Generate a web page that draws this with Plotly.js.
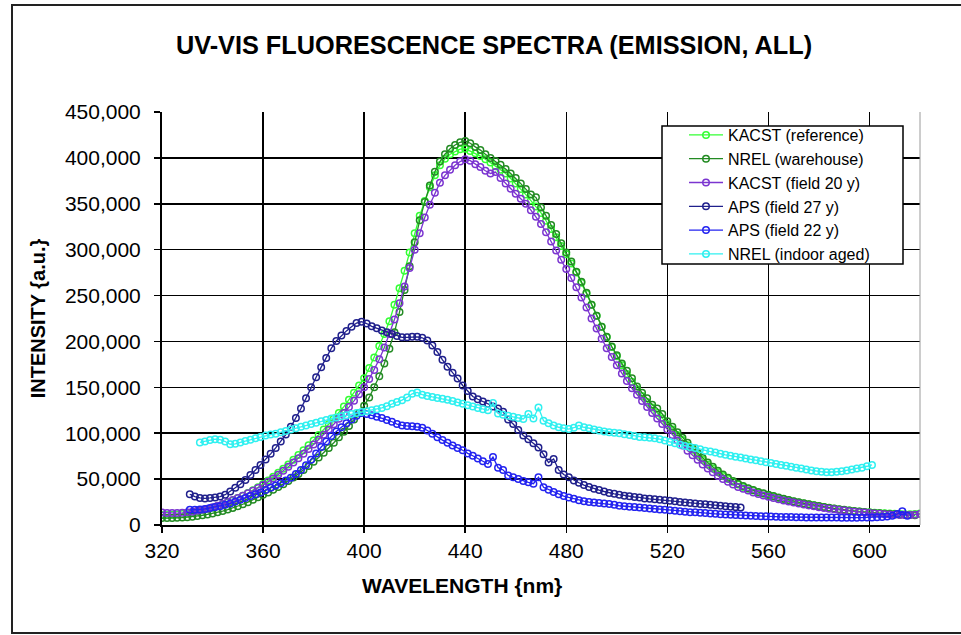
<!DOCTYPE html>
<html>
<head>
<meta charset="utf-8">
<script src="https://cdn.plot.ly/plotly-3.0.1.min.js"></script>
<style>
html,body{margin:0;padding:0;background:#fff;}
#frame{position:absolute;left:11px;top:4px;width:960px;height:626px;border-left:2px solid #222;border-top:2px solid #222;border-bottom:2px solid #222;}
#chart{position:absolute;left:0;top:0;width:961px;height:635px;}
</style>
</head>
<body>
<div id="frame"></div>
<div id="chart"></div>
<script>
// Series names (legend order)
const seriesNames = ["KACST (reference)", "NREL (warehouse)", "KACST (field 20 y)", "APS (field 27 y)", "APS (field 22 y)", "NREL (indoor aged)"];
const seriesColors = ["#33ff33", "#238b23", "#7b35d0", "#20208c", "#2323f0", "#30f0f0"];

// Wavelength sampling (nm): first wavelength and step per series
const startNm = [320, 320, 320, 331, 331, 335];
const stepNm = 2;

// Intensity values (a.u.)
const kacstReference = [
11000,11000,11200,11500,12000,12800,13600,14600,15800,17200,
18800,20500,22400,24500,26800,29300,32000,34800,37800,41200,
44800,48600,52600,56800,61200,66000,71000,76200,81400,86800,
92200,98000,104000,110000,116000,122000,129000,136500,144000,152000,
160000,171000,182500,195000,208000,222000,240000,258000,277000,297000,
318000,337000,353000,368000,381000,392000,399000,404000,407000,409500,
410000,407500,405000,402000,398500,395000,391000,387000,383000,377500,
372000,366000,360000,353500,347000,340000,331500,322500,313500,304000,
295000,285000,275000,264000,252000,240000,228000,216000,204500,194000,
184000,174000,164500,156000,148000,140500,134000,128000,122000,116000,
110000,104000,98000,92500,87000,82000,76500,71000,66000,61500,
57500,53500,50000,47000,44000,41500,39500,37500,35500,34000,
32500,31000,29500,28000,27000,25500,24500,23500,22500,21500,
20500,19500,18500,17800,17000,16300,15700,15100,14600,14200,
13800,13400,13000,12700,12400,12200,12000,11800,11800,12000,
12500];

const nrelWarehouse = [
7500,7500,7600,7800,8100,8500,9000,9700,10500,11500,
12600,13800,15200,16800,18600,20500,22600,24900,27400,30200,
33000,35500,38300,41300,44500,48000,51700,55700,59800,64200,
68800,73600,78700,84000,89600,95500,101500,108000,115000,122000,
130000,139000,150000,162000,176000,192000,210000,232000,256000,282000,
308000,332000,352000,370000,385000,396000,404000,410000,414000,417000,
418500,416000,412000,408500,404000,400000,396500,392500,388000,383000,
378000,372000,366000,360000,357000,346000,337000,327000,317000,307000,
297000,287000,276000,265000,253000,240000,228000,216000,205000,194500,
185000,176000,168000,160000,151000,144000,138000,131000,127000,121000,
113000,107000,101000,95000,89500,84000,78500,73000,68000,63500,
59000,55000,51500,48000,45000,42500,40000,38000,36000,34500,
33000,31500,30000,28500,27200,26000,24800,23700,22600,21600,
20600,19700,18800,18000,17200,16500,15800,15200,14600,14100,
13600,13100,12700,12300,11900,11600,11300,11000,10800,10600];

const kacstField20 = [
13500,13200,13000,13000,13300,13800,14500,15400,16500,17800,
19300,21000,22900,25000,27300,29300,31800,34500,37300,40300,
43500,47000,50800,54800,59000,63400,68000,72800,77700,82700,
87800,93000,98400,104000,109800,115800,122000,128500,135300,142500,
150000,159000,169000,180500,193500,208000,224000,241500,260000,280000,
300000,318000,335000,349000,362000,373000,381000,387000,392000,396000,
398500,397000,393000,390000,386000,383000,384500,378000,372000,366500,
361000,355500,350000,343000,336000,328000,319000,309000,299000,289000,
279000,269000,259000,248000,237000,225000,214000,203000,192500,183000,
174000,165000,157000,149000,142000,135000,128500,122000,116000,110000,
104000,98000,92000,86500,81000,76000,71000,66000,61500,57500,
53500,50000,47000,44000,41500,39500,37500,35500,33800,32200,
30800,29400,28000,26800,25600,24400,23300,22300,21300,20300,
19400,18600,17800,17100,16400,15700,15100,14500,14000,13500,
13000,12600,12200,11800,11500,11200,11000,10800,10800,11200,
12000];

const apsField27 = [
33500,31000,29500,29000,29500,30000,31000,33000,36500,40500,
44500,49000,54500,60000,65500,71500,77500,84000,91000,98500,
107000,116500,127000,138000,150000,161000,172000,182000,192500,200500,
206500,211500,216000,220000,221500,219500,216500,214500,212000,210000,
208000,206000,204500,204500,205000,205000,204000,201000,195500,188500,
180000,172500,166000,159500,152000,146000,140000,137000,134500,132000,
129000,127000,123500,115000,110000,103500,97500,93500,89000,84500,
77000,68000,72000,60000,55000,52000,48500,46000,43500,41500,
39500,38000,36500,35000,34000,33000,32000,31200,30500,30000,
29000,28500,28000,27500,27000,26500,26000,25000,24500,24000,
23500,23000,22500,22000,21500,21000,20500,20000,19500,19000];

const apsField22 = [
16500,16500,17000,17500,18500,19500,20500,22000,23500,25500,
27500,29500,31500,33500,35500,38000,40500,43000,45500,48500,
51500,55500,60000,65000,71000,78000,85000,91000,97000,102000,
106500,111000,115000,119000,122000,121000,119500,118000,116500,114500,
112500,110000,108500,108000,107500,107000,106000,103000,99500,95500,
92500,89500,86500,84000,81500,78000,75500,72500,69500,66500,
74000,62500,60000,54000,52000,50000,48000,46500,45000,52000,
41000,38500,36000,33500,31500,30000,28500,27000,26000,25000,
24500,24000,23500,23000,22000,21000,20500,20000,19500,19000,
18500,18000,17500,17000,16500,16000,15500,15000,14500,14000,
13800,13400,13000,12600,12200,11800,11500,11200,10900,10600,
10300,10000,9800,9600,9400,9200,9000,8800,8700,8600,
8500,8400,8300,8300,8200,8200,8100,8100,8100,8000,
8000,8000,8000,8100,8200,8300,8500,8800,9200,10000,
12000,15000,10000];

const nrelIndoorAged = [
90000,91000,92500,93500,93000,91000,88000,88500,90000,91500,
93000,94500,96000,97500,98500,99500,101000,102500,104000,105500,
107000,108500,110000,111500,113000,114500,116000,117000,118500,119500,
121000,122000,123000,124000,125000,126000,127500,129500,132000,134000,
136000,139000,143000,144500,142000,140500,139500,138500,137500,136500,
135000,133500,132000,130500,129000,127500,126000,125000,133000,121500,
120000,119000,118000,116500,115500,121000,116000,128000,113500,111000,
108500,106500,105500,104500,106000,108500,106500,105500,104000,103000,
102000,101000,100500,100000,99000,98000,97000,96000,95500,95000,
94500,93500,92000,90500,89000,87500,86000,85000,84000,82500,
81000,80000,79000,77500,76500,75500,74500,73500,72500,71500,
70500,69500,68500,67500,66500,65500,64500,63500,62500,61500,
60500,59500,58500,58000,57500,57500,58000,58500,59500,60500,
61500,62500,64000,65500];

// Axis ticks
const xTicks = [320, 360, 400, 440, 480, 520, 560, 600];
const yTicks = [0, 50000, 100000, 150000, 200000, 250000, 300000, 350000, 400000, 450000];

const allSeries = [kacstReference, nrelWarehouse, kacstField20, apsField27, apsField22, nrelIndoorAged];

const FONT = "'Liberation Sans', Arial, Helvetica, sans-serif";

const traces = allSeries.map((vals, i) => ({
  type: 'scatter',
  mode: 'lines+markers',
  name: seriesNames[i],
  x0: startNm[i],
  dx: stepNm,
  y: vals,
  line: {color: seriesColors[i], width: 1.3},
  marker: {symbol: 'circle-open', size: 6.5, color: seriesColors[i], line: {width: 1.5, color: seriesColors[i]}}
}));

const L = 162, R = 920, T = 112, B = 525;
const W = R - L, H = B - T;
const px = v => (v - L) / W;
const py = v => (B - v) / H;

const layout = {
  width: 961, height: 635,
  margin: {l: L, r: 961 - R, t: T, b: 635 - B, pad: 0},
  paper_bgcolor: 'rgba(0,0,0,0)',
  plot_bgcolor: '#ffffff',
  font: {family: FONT, color: '#000'},
  title: {
    text: 'UV-VIS FLUORESCENCE SPECTRA (EMISSION, ALL)',
    font: {family: FONT, size: 25.3, weight: 'bold', color: '#000'},
    xref: 'container', yref: 'container', x: 494 / 961, y: 1 - 45 / 635,
    xanchor: 'center', yanchor: 'middle'
  },
  xaxis: {
    range: [320, 620], tickvals: xTicks, ticktext: xTicks.map(String),
    showgrid: true, gridcolor: '#000', gridwidth: 1.5,
    showline: true, linecolor: '#000', linewidth: 2,
    ticks: 'outside', ticklen: 6, tickwidth: 1.5, tickcolor: '#000',
    tickfont: {family: FONT, size: 21, color: '#000'},
    zeroline: false, automargin: false
  },
  yaxis: {
    range: [0, 450000], tickvals: yTicks, tickformat: ',d',
    showgrid: true, gridcolor: '#000', gridwidth: 1.5,
    showline: true, linecolor: '#000', linewidth: 2,
    ticks: 'outside', ticklen: 6, tickwidth: 1.5, tickcolor: '#000',
    tickfont: {family: FONT, size: 21, color: '#000'},
    ticklabelstandoff: 9,
    zeroline: false, automargin: false,
    title: {text: 'INTENSITY {a.u.}', font: {family: FONT, size: 20, weight: 'bold', color: '#000'}, standoff: 14}
  },
  annotations: [
    {text: 'WAVELENGTH {nm}', xref: 'paper', yref: 'paper', x: px(462), y: py(585),
     xanchor: 'center', yanchor: 'middle', showarrow: false,
     font: {family: FONT, size: 21, weight: 'bold', color: '#000'}}
  ],
  showlegend: true,
  legend: {
    x: px(684), y: py(118), xanchor: 'left', yanchor: 'top',
    bgcolor: 'rgba(0,0,0,0)', borderwidth: 0,
    font: {family: FONT, size: 16, color: '#000'},
    itemwidth: 34, traceorder: 'normal'
  },
  shapes: [
    {type: 'rect', xref: 'paper', yref: 'paper', x0: px(662), x1: px(903), y0: py(264), y1: py(126),
     line: {color: '#000', width: 1.5}, fillcolor: '#fff', layer: 'above'},
    {type: 'line', xref: 'paper', yref: 'paper', x0: 1, x1: 1, y0: 0, y1: 1,
     line: {color: '#9a9a9a', width: 1}, layer: 'above'}
  ]
};

Plotly.newPlot('chart', traces, layout, {displayModeBar: false, staticPlot: true});
</script>
</body>
</html>
